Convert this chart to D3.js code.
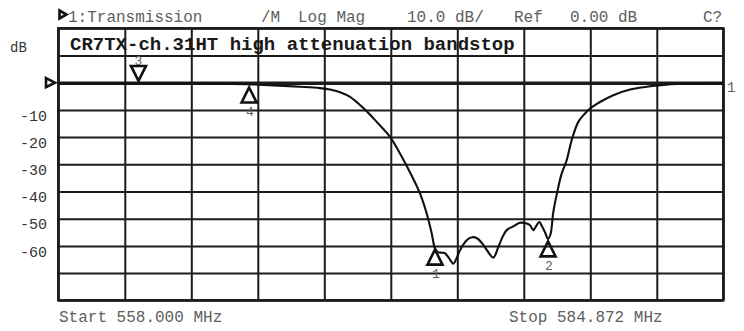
<!DOCTYPE html>
<html>
<head>
<meta charset="utf-8">
<script src="https://cdn.jsdelivr.net/npm/d3@7/dist/d3.min.js"></script>
<style>
  html, body { margin: 0; padding: 0; background: #fff; }
  svg { display: block; }
  text { font-family: "Liberation Mono", "Courier New", monospace; }
</style>
</head>
<body>
<svg id="chart" width="744" height="331"></svg>
<script>
// Sweep: transmission through the bandstop filter (frequency in MHz, level in dB)
const freqMHz = [
  558.000, 559.685, 561.706, 563.726, 565.746, 566.959, 567.767, 568.575, 568.980, 569.384,
  569.788, 570.394, 570.866, 571.404, 571.808, 572.293, 572.616, 572.886, 573.089, 573.218,
  573.343, 573.505, 573.626, 573.788, 573.962, 574.111, 574.232, 574.503, 574.717, 574.919,
  575.121, 575.323, 575.578, 575.780, 575.970, 576.119, 576.386, 576.657, 576.928, 577.061,
  577.194, 577.304, 577.437, 577.546, 577.667, 577.789, 577.890, 578.002, 578.152, 578.334,
  578.544, 578.746, 579.013, 579.284, 579.486, 579.890, 580.427, 581.102, 581.777, 582.245,
  583.243, 584.872
];
const transDb = [
  -0.2, -0.2, -0.2, -0.3, -0.6, -1.1, -1.5, -2.0, -2.5, -3.5,
  -5.2, -9.9, -14.4, -19.9, -26.0, -34.4, -40.7, -48.1, -55.4, -60.8,
  -62.3, -62.5, -62.7, -64.5, -66.5, -64.2, -61.6, -57.9, -56.8, -57.2,
  -59.0, -61.6, -64.3, -60.4, -56.4, -54.2, -52.8, -51.5, -51.8, -52.4,
  -54.2, -52.8, -51.2, -52.8, -55.0, -57.4, -55.7, -47.6, -40.6, -33.6,
  -28.5, -21.1, -14.4, -11.3, -9.5, -7.1, -4.6, -2.5, -1.5, -1.0,
  -0.4, -0.3
];

// Axis settings
const startMHz = 558.000, stopMHz = 584.872;
const refDb = 0, dbPerDiv = 10, topDb = 20, bottomDb = -80;
const yTickDb = [-10, -20, -30, -40, -50, -60];

// Markers
const markerIds  = ["1", "2", "3", "4"];
const markerFreq = [573.22, 577.79, 561.24, 565.71];
const markerDb   = [-60.8, -57.8, 0.1, -1.2];
const markerDir  = ["up", "up", "down", "up"];

// Texts
const headerParts = [
  { t: "1:Transmission", x: 68 },
  { t: "/M", x: 261 },
  { t: "Log Mag", x: 298 },
  { t: "10.0 dB/", x: 407 },
  { t: "Ref", x: 514 },
  { t: "0.00 dB", x: 570 },
  { t: "C?", x: 703 }
];
const titleText = "CR7TX-ch.31HT high attenuation bandstop";
const startLabel = "Start 558.000 MHz";
const stopLabel = "Stop 584.872 MHz";

const svg = d3.select("#chart");
const plotL = 58.3, plotR = 723.3, plotT = 28.3, plotB = 300.3;

const x = d3.scaleLinear().domain([startMHz, stopMHz]).range([plotL, plotR]);
const y = d3.scaleLinear().domain([topDb, bottomDb]).range([plotT, plotB]);

const gridColor = "#1c1c1c";

// Vertical grid divisions
const xDivs = d3.range(0, 11).map(i => startMHz + (stopMHz - startMHz) * i / 10);
svg.append("g")
  .attr("transform", `translate(0,${plotB})`)
  .call(d3.axisBottom(x).tickValues(xDivs).tickSize(-(plotB - plotT)).tickFormat(""))
  .call(g => g.select(".domain").remove())
  .call(g => g.selectAll("line").attr("stroke", gridColor).attr("stroke-width", 2));

// Horizontal grid divisions
const yDivs = d3.range(topDb, bottomDb - 1, -dbPerDiv);
svg.append("g")
  .attr("transform", `translate(${plotL},0)`)
  .call(d3.axisLeft(y).tickValues(yDivs).tickSize(-(plotR - plotL)).tickFormat(""))
  .call(g => g.select(".domain").remove())
  .call(g => g.selectAll("line")
    .attr("stroke", gridColor)
    .attr("stroke-width", d => d === refDb ? 3.5 : 2));

// Frame
svg.append("rect")
  .attr("x", plotL).attr("y", plotT)
  .attr("width", plotR - plotL).attr("height", plotB - plotT)
  .attr("fill", "none").attr("stroke", gridColor).attr("stroke-width", 2.5);

// dB labels
svg.append("g")
  .attr("transform", `translate(47,0)`)
  .call(d3.axisLeft(y).tickValues(yTickDb).tickSize(0).tickPadding(0).tickFormat(d => d))
  .call(g => g.select(".domain").remove())
  .call(g => g.selectAll("text")
    .attr("font-family", "Liberation Mono, Courier New, monospace")
    .attr("font-size", 15)
    .attr("fill", "#333")
    .attr("dy", "0.75em")
    .attr("y", -1));

svg.append("text").attr("x", 10).attr("y", 52)
  .attr("font-size", 14).attr("fill", "#333").text("dB");

// Header line
svg.append("g").selectAll("text").data(headerParts).join("text")
  .attr("x", d => d.x).attr("y", 22)
  .attr("font-size", 16).attr("fill", "#606060")
  .text(d => d.t);

// Channel indicator triangle in header
svg.append("path")
  .attr("d", `M59.5,10.5 L66.5,14.5 L59.5,18.5 Z`)
  .attr("fill", "#fff").attr("stroke", "#111").attr("stroke-width", 2.6)
  .attr("stroke-linejoin", "miter");

// Title
svg.append("text").attr("x", 70).attr("y", 49.5)
  .attr("font-size", 19).attr("font-weight", "bold").attr("fill", "#1a1a1a")
  .text(titleText);

// Reference position triangle on the left
const yr = y(refDb);
svg.append("path")
  .attr("d", `M46,${yr - 4.5} L55,${yr} L46,${yr + 4.5} Z`)
  .attr("fill", "#fff").attr("stroke", "#111").attr("stroke-width", 2.6);

svg.append("text").attr("x", 727).attr("y", yr + 9)
  .attr("font-size", 14).attr("fill", "#606060").text("1");

// Trace
const line = d3.line()
  .x((d, i) => x(freqMHz[i]))
  .y(d => y(d))
  .curve(d3.curveCatmullRom.alpha(0.5));
svg.append("path")
  .attr("d", line(transDb))
  .attr("fill", "none").attr("stroke", "#111").attr("stroke-width", 2.1)
  .attr("stroke-linejoin", "round");

// Markers
const mk = svg.append("g");
markerIds.forEach((id, i) => {
  const mx = x(markerFreq[i]), my = y(markerDb[i]);
  const w = 7.5, h = 15;
  if (markerDir[i] === "up") {
    mk.append("path")
      .attr("d", `M${mx},${my + 1.5} L${mx + w},${my + 1.5 + h} L${mx - w},${my + 1.5 + h} Z`)
      .attr("fill", "none").attr("stroke", "#111").attr("stroke-width", 2.6);
    mk.append("text").attr("x", mx - 3).attr("y", my + h + 15)
      .attr("font-size", 13).attr("fill", "#606060").text(id);
  } else {
    mk.append("path")
      .attr("d", `M${mx},${my - 1.5} L${mx + w},${my - 1.5 - h} L${mx - w},${my - 1.5 - h} Z`)
      .attr("fill", "none").attr("stroke", "#111").attr("stroke-width", 2.6);
    mk.append("text").attr("x", mx - 4).attr("y", my - h - 2)
      .attr("font-size", 13).attr("fill", "#606060").text(id);
  }
});

// Sweep limits
svg.append("text").attr("x", 59).attr("y", 322)
  .attr("font-size", 16).attr("fill", "#606060").text(startLabel);
svg.append("text").attr("x", 509).attr("y", 322)
  .attr("font-size", 16).attr("fill", "#606060").text(stopLabel);
</script>
</body>
</html>
